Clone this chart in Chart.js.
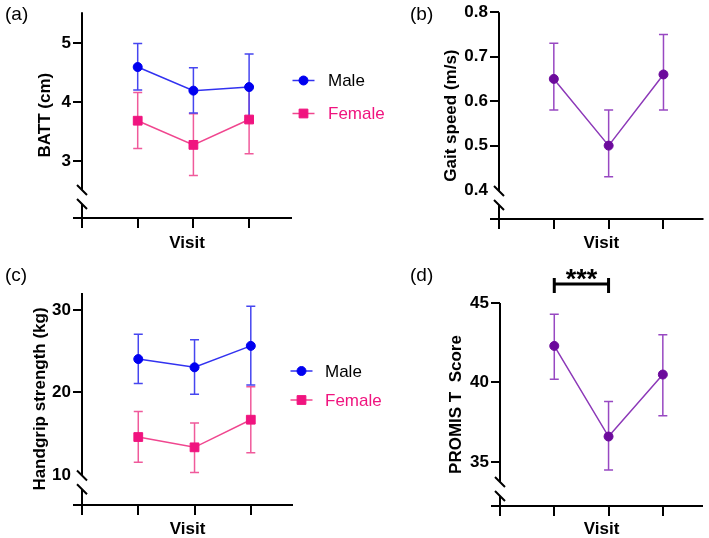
<!DOCTYPE html>
<html>
<head>
<meta charset="utf-8">
<script src="https://cdn.jsdelivr.net/npm/chart.js@4.4.1/dist/chart.umd.min.js"></script>
<style>
html,body{margin:0;padding:0;background:#fff;}
#wrap{position:relative;width:709px;height:538px;overflow:hidden;background:#fff;}
canvas{position:absolute;display:block;}
</style>
</head>
<body>
<div id="wrap">
  <canvas id="ca" width="400" height="260" style="left:0;top:0"></canvas>
  <canvas id="cb" width="349" height="260" style="left:360px;top:0"></canvas>
  <canvas id="cc" width="400" height="278" style="left:0;top:260px"></canvas>
  <canvas id="cd" width="349" height="278" style="left:360px;top:260px"></canvas>
</div>
<script>
// ---------- data ----------
const visits = [1, 2, 3];
const xTickValues = [0, 1, 2, 3];

const battTicks = [3, 4, 5];
const battMale = [4.60, 4.20, 4.26];
const battMaleLo = [4.21, 3.82, 3.70];
const battMaleHi = [5.00, 4.59, 4.82];
const battFemale = [3.69, 3.28, 3.71];
const battFemaleLo = [3.22, 2.76, 3.13];
const battFemaleHi = [4.17, 3.81, 4.27];

const gaitTicks = [0.4, 0.5, 0.6, 0.7, 0.8];
const gait = [0.65, 0.50, 0.66];
const gaitLo = [0.58, 0.43, 0.58];
const gaitHi = [0.73, 0.58, 0.75];

const gripTicks = [10, 20, 30];
const gripMale = [24.05, 23.05, 25.65];
const gripMaleLo = [21.1, 19.8, 20.9];
const gripMaleHi = [27.05, 26.4, 30.45];
const gripFemale = [14.6, 13.35, 16.7];
const gripFemaleLo = [11.55, 10.3, 12.7];
const gripFemaleHi = [17.7, 16.3, 20.7];

const promisTicks = [35, 40, 45];
const promis = [42.3, 36.6, 40.5];
const promisLo = [40.2, 34.5, 37.9];
const promisHi = [44.3, 38.8, 43.0];

// ---------- styles ----------
Chart.defaults.font.family = "'Liberation Sans', Arial, Helvetica, sans-serif";
const FONT = "'Liberation Sans', Arial, Helvetica, sans-serif";
const MALE = {marker: '#0000f0', line: '#3232f0', err: '#4646f0', text: '#000000', style: 'circle', r: 4.5};
const FEMALE = {marker: '#f0147f', line: '#f0468f', err: '#f05a9b', text: '#f0147f', style: 'rect', r: 6.2};
const PURPLE = {marker: '#6c0a9c', line: '#8c38b8', err: '#9848c2', text: '#000000', style: 'circle', r: 4.5};

function makeDeco(P) {
  return {
    id: 'deco_' + P.id,
    beforeDatasetsDraw(chart) {
      const ctx = chart.ctx, xs = chart.scales.x, ys = chart.scales.y;
      for (let k = P.series.length - 1; k >= 0; k--) {
        const s = P.series[k];
        ctx.save();
        ctx.strokeStyle = s.c.err;
        ctx.lineWidth = 1.5;
        s.values.forEach((v, i) => {
          const x = xs.getPixelForValue(visits[i]);
          const yl = ys.getPixelForValue(s.lo[i]);
          const yh = ys.getPixelForValue(s.hi[i]);
          ctx.beginPath();
          ctx.moveTo(x, yl); ctx.lineTo(x, yh);
          ctx.moveTo(x - 4.5, yl); ctx.lineTo(x + 4.5, yl);
          ctx.moveTo(x - 4.5, yh); ctx.lineTo(x + 4.5, yh);
          ctx.stroke();
        });
        ctx.restore();
      }
    },
    afterDraw(chart) {
      const ctx = chart.ctx, xs = chart.scales.x;
      const a = chart.chartArea;
      const L = a.left, B = a.bottom, T = a.top, R = a.right;
      ctx.save();
      // broken axes
      ctx.strokeStyle = '#000';
      ctx.lineWidth = 2;
      ctx.beginPath();
      ctx.moveTo(L - 9, B); ctx.lineTo(R, B);
      ctx.moveTo(L, T); ctx.lineTo(L, P.d1c);
      ctx.moveTo(L, P.d2c); ctx.lineTo(L, B);
      ctx.moveTo(L - 5, P.d1c - 5); ctx.lineTo(L + 5, P.d1c + 5);
      ctx.moveTo(L - 5, P.d2c - 5); ctx.lineTo(L + 5, P.d2c + 5);
      ctx.stroke();
      // panel label
      ctx.fillStyle = '#000';
      ctx.font = '19px ' + FONT;
      ctx.textBaseline = 'middle';
      ctx.textAlign = 'left';
      ctx.fillText(P.label.t, P.label.x, P.label.y);
      // legend
      if (P.legend) {
        P.series.forEach((s, k) => {
          const y = P.legend.y[k], x = P.legend.x;
          ctx.strokeStyle = s.c.line;
          ctx.lineWidth = 1.5;
          ctx.beginPath(); ctx.moveTo(x, y); ctx.lineTo(x + 22, y); ctx.stroke();
          ctx.fillStyle = s.c.marker;
          ctx.strokeStyle = s.c.marker;
          ctx.lineWidth = 1;
          Chart.helpers.drawPoint(ctx, {pointStyle: s.c.style, radius: s.c.r, borderWidth: 1, rotation: 0}, x + 11, y);
          ctx.fillStyle = s.c.text;
          ctx.font = '17px ' + FONT;
          ctx.textBaseline = 'middle';
          ctx.textAlign = 'left';
          ctx.fillText(s.label, P.legend.tx, y + 1);
        });
      }
      // significance bracket
      if (P.bracket) {
        const x1 = xs.getPixelForValue(P.bracket.from), x2 = xs.getPixelForValue(P.bracket.to);
        ctx.strokeStyle = '#000';
        ctx.lineWidth = 3;
        ctx.beginPath();
        ctx.moveTo(x1, P.bracket.y); ctx.lineTo(x2, P.bracket.y);
        ctx.moveTo(x1, P.bracket.y1); ctx.lineTo(x1, P.bracket.y2);
        ctx.moveTo(x2, P.bracket.y1); ctx.lineTo(x2, P.bracket.y2);
        ctx.stroke();
        ctx.fillStyle = '#000';
        ctx.font = 'bold 27px ' + FONT;
        ctx.textAlign = 'center';
        ctx.textBaseline = 'alphabetic';
        ctx.fillText(P.bracket.text, (x1 + x2) / 2, P.bracket.ty);
      }
      ctx.restore();
    }
  };
}

function build(canvasId, P) {
  const datasets = P.series.map(s => ({
    label: s.label,
    data: s.values.map((v, i) => ({x: visits[i], y: v})),
    borderColor: s.c.line,
    backgroundColor: s.c.marker,
    pointBackgroundColor: s.c.marker,
    pointBorderColor: s.c.marker,
    pointStyle: s.c.style,
    pointRadius: s.c.r,
    pointBorderWidth: 1,
    borderWidth: 1.5,
    tension: 0,
    clip: false
  }));
  const fmt = P.fmt;
  const hidden = P.hiddenTick;
  return new Chart(document.getElementById(canvasId), {
    type: 'line',
    data: {datasets},
    options: {
      responsive: false,
      animation: false,
      events: [],
      layout: {padding: {left: 0, top: P.top, right: P.w - P.right, bottom: 0}},
      plugins: {legend: {display: false}, tooltip: {enabled: false}},
      scales: {
        x: {
          type: 'linear', min: 0, max: P.xMax,
          afterBuildTicks: sc => { sc.ticks = xTickValues.map(v => ({value: v})); },
          afterFit: sc => { sc.height = P.h - P.bottom; },
          grid: {drawOnChartArea: false, drawTicks: true, tickLength: 10, lineWidth: 2, color: '#000'},
          border: {display: false},
          ticks: {display: false},
          title: {display: true, text: 'Visit', color: '#000',
                  font: {size: 17, weight: 'bold', lineHeight: 1}, padding: {top: 0, bottom: P.xtPad}}
        },
        y: {
          type: 'linear', min: P.yMin, max: P.yMax,
          afterBuildTicks: sc => { sc.ticks = P.yTicks.map(v => ({value: v})); },
          afterFit: sc => { sc.width = P.left; },
          grid: {drawOnChartArea: false, drawTicks: true, tickLength: 9, lineWidth: 2,
                 color: c => (c.tick && c.tick.value === hidden) ? 'rgba(0,0,0,0)' : '#000'},
          border: {display: false},
          ticks: {color: '#000', padding: 2, font: {size: 17, weight: 'bold'},
                  callback: v => fmt ? fmt(v) : String(v)},
          title: {display: true, text: P.yTitle, color: '#000',
                  font: {size: 17, weight: 'bold', lineHeight: 1}, padding: {top: P.ytPad, bottom: 0}}
        }
      }
    },
    plugins: [makeDeco(P)]
  });
}

build('ca', {
  id: 'a', w: 400, h: 260, left: 82, right: 292, top: 7, bottom: 218,
  yMin: 2.04, yMax: 5.53, yTicks: battTicks, xMax: 3.77, hiddenTick: null,
  d1c: 190, d2c: 204, xtPad: 8, ytPad: 37, yTitle: 'BATT (cm)',
  label: {t: '(a)', x: 5, y: 15},
  legend: {x: 292.5, y: [80.5, 113.5], tx: 328},
  series: [
    {label: 'Male', c: MALE, values: battMale, lo: battMaleLo, hi: battMaleHi},
    {label: 'Female', c: FEMALE, values: battFemale, lo: battFemaleLo, hi: battFemaleHi}
  ]
});

build('cb', {
  id: 'b', w: 349, h: 260, left: 139, right: 345, top: 12, bottom: 219,
  yMin: 0.335, yMax: 0.8, yTicks: gaitTicks, xMax: 3.73, hiddenTick: 0.4,
  fmt: v => v.toFixed(1),
  d1c: 191, d2c: 205, xtPad: 8, ytPad: 83, yTitle: 'Gait speed (m/s)',
  label: {t: '(b)', x: 50, y: 15},
  series: [
    {label: 'Gait speed', c: PURPLE, values: gait, lo: gaitLo, hi: gaitHi}
  ]
});

build('cc', {
  id: 'c', w: 400, h: 278, left: 82, right: 293, top: 33, bottom: 245,
  yMin: 6.36, yMax: 32.06, yTicks: gripTicks, xMax: 3.75, hiddenTick: 10,
  d1c: 215.5, d2c: 229.3, xtPad: 0, ytPad: 31.5, yTitle: 'Handgrip strength (kg)',
  label: {t: '(c)', x: 5, y: 16},
  legend: {x: 290.5, y: [111, 140], tx: 325},
  series: [
    {label: 'Male', c: MALE, values: gripMale, lo: gripMaleLo, hi: gripMaleHi},
    {label: 'Female', c: FEMALE, values: gripFemale, lo: gripFemaleLo, hi: gripFemaleHi}
  ]
});

build('cd', {
  id: 'd', w: 349, h: 278, left: 140, right: 343, top: 43, bottom: 246,
  yMin: 32.23, yMax: 45, yTicks: promisTicks, xMax: 3.74, hiddenTick: null,
  d1c: 222, d2c: 236, xtPad: 0, ytPad: 87.5, yTitle: 'PROMIS T  Score',
  label: {t: '(d)', x: 50, y: 16},
  bracket: {from: 1, to: 2, y: 24, y1: 18, y2: 33, text: '***', ty: 27.5},
  series: [
    {label: 'PROMIS T Score', c: PURPLE, values: promis, lo: promisLo, hi: promisHi}
  ]
});
</script>
</body>
</html>
